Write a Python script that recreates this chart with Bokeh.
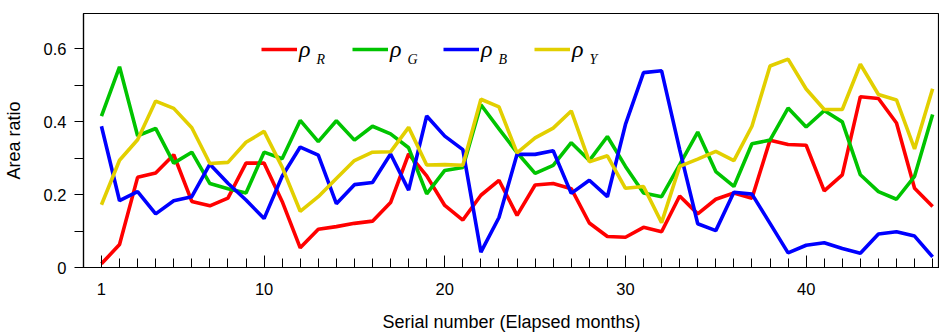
from bokeh.plotting import figure
from bokeh.models import Range1d, FixedTicker, Legend, LegendItem, Label
from bokeh.embed import file_html
from bokeh.resources import INLINE

months = list(range(1, 48))
rho_R = [0.010, 0.063, 0.247, 0.259, 0.309, 0.181, 0.169, 0.190, 0.286, 0.286,
         0.181, 0.054, 0.105, 0.112, 0.121, 0.127, 0.178, 0.311, 0.251, 0.170,
         0.130, 0.198, 0.239, 0.143, 0.226, 0.230, 0.216, 0.122, 0.085, 0.083,
         0.110, 0.098, 0.196, 0.147, 0.187, 0.204, 0.190, 0.349, 0.337, 0.335,
         0.210, 0.254, 0.468, 0.463, 0.396, 0.217, 0.167]
rho_G = [0.415, 0.550, 0.361, 0.381, 0.286, 0.316, 0.230, 0.216, 0.204, 0.316,
         0.298, 0.403, 0.345, 0.402, 0.349, 0.387, 0.366, 0.328, 0.202, 0.266,
         0.274, 0.446, 0.380, 0.315, 0.258, 0.280, 0.342, 0.293, 0.359, 0.277,
         0.204, 0.194, 0.282, 0.371, 0.263, 0.222, 0.339, 0.349, 0.437, 0.385,
         0.430, 0.399, 0.254, 0.208, 0.187, 0.250, 0.419]
rho_B = [0.387, 0.183, 0.208, 0.147, 0.183, 0.194, 0.283, 0.231, 0.185, 0.134,
         0.250, 0.330, 0.308, 0.175, 0.227, 0.233, 0.311, 0.212, 0.415, 0.360,
         0.323, 0.042, 0.137, 0.310, 0.310, 0.320, 0.203, 0.239, 0.194, 0.392,
         0.534, 0.539, 0.323, 0.120, 0.101, 0.206, 0.201, 0.121, 0.040, 0.061,
         0.068, 0.052, 0.039, 0.092, 0.098, 0.086, 0.029]
rho_Y = [0.172, 0.294, 0.350, 0.456, 0.436, 0.383, 0.285, 0.288, 0.343, 0.373,
         0.275, 0.154, 0.194, 0.244, 0.293, 0.316, 0.317, 0.384, 0.281, 0.282,
         0.280, 0.461, 0.440, 0.314, 0.355, 0.382, 0.429, 0.290, 0.306, 0.217,
         0.222, 0.123, 0.277, 0.297, 0.318, 0.293, 0.387, 0.552, 0.571, 0.489,
         0.433, 0.433, 0.557, 0.474, 0.459, 0.325, 0.490]

x_major = [1, 10, 20, 30, 40]
y_major = [0, 0.2, 0.4, 0.6]
y_minor = [0.1, 0.3, 0.5]
subs = ["R", "G", "B", "Y"]
colors = ["#FF0000", "#00C400", "#0000FF", "#E2CF00"]

p = figure(width=939, height=334, output_backend="svg", toolbar_location=None,
           x_range=Range1d(0.006, 47.38), y_range=Range1d(0, 0.696),
           min_border_left=81, min_border_right=0, min_border_top=13,
           min_border_bottom=67)
p.grid.visible = False
p.outline_line_color = "black"
p.outline_line_width = 1.2
p.background_fill_color = "white"
p.border_fill_color = "white"

renderers = []
for ys, c in zip([rho_R, rho_G, rho_B, rho_Y], colors):
    r = p.line(months, ys, line_color=c, line_width=3.6)
    renderers.append(r)

font = "Liberation Sans"
xa = p.xaxis[0]
xa.ticker = FixedTicker(ticks=x_major, minor_ticks=months)
xa.major_tick_in = 12
xa.major_tick_out = 0
xa.minor_tick_in = 9
xa.minor_tick_out = 0
xa.axis_line_color = "black"
xa.axis_line_width = 1.2
xa.major_tick_line_color = "black"
xa.minor_tick_line_color = "black"
xa.major_label_text_font = font
xa.major_label_text_font_size = "16.5px"
xa.major_label_text_color = "black"
xa.major_label_standoff = 15
xa.axis_label = "Serial number (Elapsed months)"
xa.axis_label_text_font = font
xa.axis_label_text_font_size = "18px"
xa.axis_label_text_font_style = "normal"
xa.axis_label_text_color = "black"
xa.axis_label_standoff = 14

ya = p.yaxis[0]
ya.ticker = FixedTicker(ticks=y_major, minor_ticks=y_minor)
ya.major_tick_in = 0
ya.major_tick_out = 9
ya.minor_tick_in = 0
ya.minor_tick_out = 9
ya.axis_line_color = "black"
ya.axis_line_width = 1.2
ya.major_tick_line_color = "black"
ya.minor_tick_line_color = "black"
ya.major_label_text_font = font
ya.major_label_text_font_size = "16.5px"
ya.major_label_text_color = "black"
ya.major_label_standoff = 8
ya.axis_label = "Area ratio"
ya.axis_label_text_font = font
ya.axis_label_text_font_size = "18px"
ya.axis_label_text_font_style = "normal"
ya.axis_label_text_color = "black"
ya.axis_label_standoff = 17

items = [LegendItem(label="\u03c1", renderers=[r]) for r in renderers]
legend = Legend(items=items, orientation="horizontal", location=(178, 204.5),
                glyph_width=36, glyph_height=10, label_standoff=2,
                label_width=40, spacing=13, padding=0, margin=0,
                border_line_color=None, background_fill_alpha=0,
                label_text_font="Liberation Serif", label_text_font_style="italic",
                label_text_font_size="24px", label_text_color="black")
p.add_layout(legend)

for i, s in enumerate(subs):
    p.add_layout(Label(x=233 + i * 91, y=201, x_units="screen", y_units="screen",
                       text=s, text_font="Liberation Serif", text_font_style="italic",
                       text_font_size="14px", text_color="black"))

open("out.html", "w").write(file_html(p, INLINE))
